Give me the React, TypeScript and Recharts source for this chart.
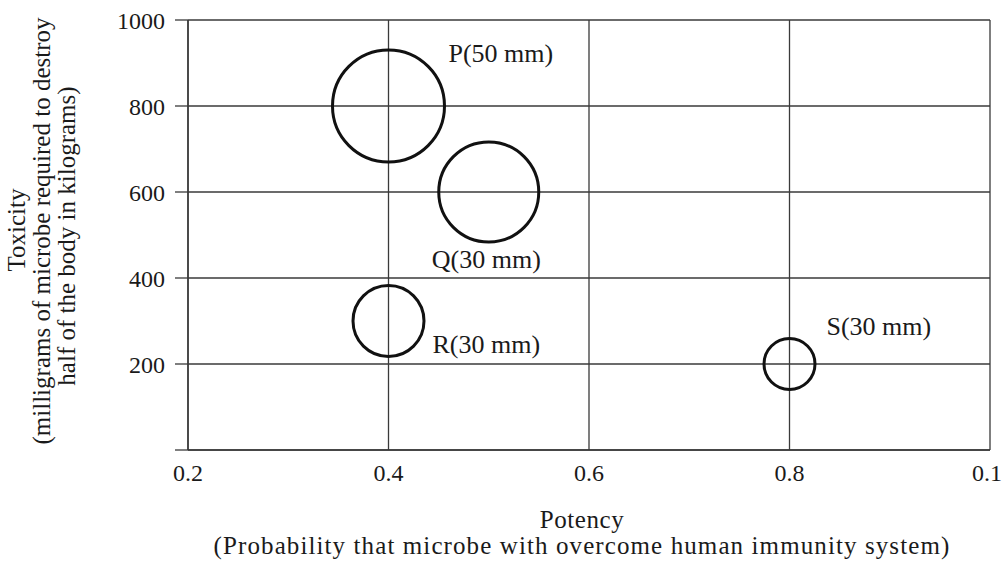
import React from 'react'
import { ScatterChart, Scatter, XAxis, YAxis, ZAxis, CartesianGrid } from 'recharts'

// microbes
const names = ['P', 'Q', 'R', 'S']
const potency = [0.4, 0.5, 0.4, 0.8]
const toxicity = [800, 600, 300, 200]
const bubble = [56, 50, 35.5, 25.5]
const captions = ['P(50 mm)', 'Q(30 mm)', 'R(30 mm)', 'S(30 mm)']

const xTicks = [0.2, 0.4, 0.6, 0.8, 1.0]
const xTickLabels = ['0.2', '0.4', '0.6', '0.8', '0.1']
const yTicks = [0, 200, 400, 600, 800, 1000]

const data = names.map((n, i) => ({ name: n, x: potency[i], y: toxicity[i], z: bubble[i], caption: captions[i] }))

// where each caption sits relative to its circle
const captionOffset: Record<string, [number, number]> = {
  P: [60, -44],
  Q: [-57, 76],
  R: [44, 32],
  S: [37, -29],
}

const FONT = '"Liberation Serif", "Times New Roman", serif'
const INK = '#1a1a1a'
const GRID = '#3a3a3a'

const Bubble = (props: any) => {
  const { cx, cy, payload, size } = props
  const [dx, dy] = captionOffset[payload.name] || [0, 0]
  return (
    <g>
      <circle cx={cx} cy={cy} r={size} fill="none" stroke="#111" strokeWidth={3} />
      <text x={cx + dx} y={cy + dy} fontFamily={FONT} fontSize={26} fill={INK}>
        {payload.caption}
      </text>
    </g>
  )
}

const YTitle = () => (
  <g fontFamily={FONT} fontSize={25} fill={INK} textAnchor="middle">
    <text transform="translate(25,230) rotate(-90)">Toxicity</text>
    <text transform="translate(50,231) rotate(-90)">(milligrams of microbe required to destroy</text>
    <text transform="translate(75,236) rotate(-90)">half of the body in kilograms)</text>
  </g>
)

const XTitle = () => (
  <g fontFamily={FONT} fontSize={25} fill={INK} textAnchor="middle">
    <text x={582} y={528} letterSpacing={0.6}>Potency</text>
    <text x={582} y={554} letterSpacing={1.1}>(Probability that microbe with overcome human immunity system)</text>
  </g>
)

export default function App() {
  return (
    <div style={{ position: 'absolute', left: 0, top: 0, background: '#fff' }}>
      <ScatterChart width={1002} height={562} margin={{ top: 20, right: 12, bottom: 0, left: 0 }}>
        <CartesianGrid stroke={GRID} strokeWidth={1.3} strokeOpacity={1} />
        <XAxis
          type="number"
          dataKey="x"
          domain={[0.2, 1.0]}
          ticks={xTicks}
          tickFormatter={(v: number) => xTickLabels[xTicks.indexOf(v)] ?? ''}
          height={112}
          tickLine={false}
          tickSize={0}
          tickMargin={14}
          axisLine={{ stroke: GRID, strokeWidth: 1.5 }}
          tick={{ fontFamily: FONT, fontSize: 24, fill: INK }}
          label={{ content: () => <XTitle /> }}
        />
        <YAxis
          type="number"
          dataKey="y"
          domain={[0, 1000]}
          ticks={yTicks}
          tickFormatter={(v: number) => (v === 0 ? '' : String(v))}
          width={188}
          tickSize={13}
          tickMargin={10}
          tickLine={{ stroke: GRID, strokeWidth: 1.3 }}
          axisLine={{ stroke: GRID, strokeWidth: 1.5 }}
          tick={{ fontFamily: FONT, fontSize: 24, fill: INK }}
          label={{ content: () => <YTitle /> }}
        />
        <ZAxis type="number" dataKey="z" domain={[0, 100]} range={[0, 100]} />
        <Scatter data={data} shape={<Bubble />} isAnimationActive={false} />
      </ScatterChart>
    </div>
  )
}
